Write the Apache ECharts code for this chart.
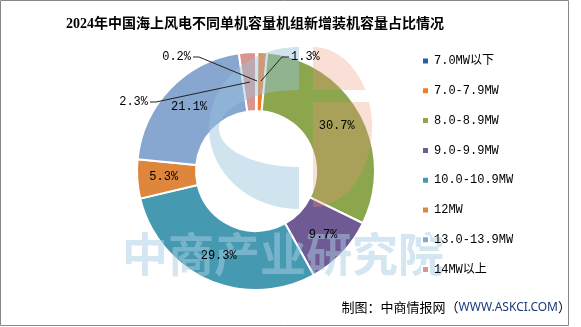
<!DOCTYPE html>
<html>
<head>
<meta charset="utf-8">
<script src="https://cdn.jsdelivr.net/npm/echarts@6/dist/echarts.min.js"></script>
<style>
html,body{margin:0;padding:0;background:#fff;}
#chart{width:581px;height:327px;}
</style>
</head>
<body>
<div id="chart"></div>
<script>
var titleText = '2024年中国海上风电不同单机容量机组新增装机容量占比情况';
var categories = ['7.0MW以下', '7.0-7.9MW', '8.0-8.9MW', '9.0-9.9MW', '10.0-10.9MW', '12MW', '13.0-13.9MW', '14MW以上'];
var shares = [0.2, 1.3, 30.7, 9.7, 29.3, 5.3, 21.1, 2.3];
var sourceText = '制图：中商情报网（';
var sourceUrl = 'WWW.ASKCI.COM';
var watermarkText = '中商产业研究院';

var colors = ['#1f63a8', '#f77a26', '#8ca64e', '#6f5a94', '#4599b0', '#de863c', '#88a7d0', '#d9958f'];
var monoFont = "'Liberation Mono', 'Noto Sans CJK SC', monospace";

// outside label placement for the three thin slices (index -> placement)
var outsideLabels = {
  0: {x: 191, y: 57, align: 'right', pts: [[257, 81], [199, 57], [193, 57]]},
  1: {x: 291, y: 57, align: 'left', pts: [[261, 81], [282, 57], [289, 57]]},
  7: {x: 148, y: 102, align: 'right', pts: [[250, 82], [156, 102], [150, 102]]}
};

// decorative watermark logo outline helper (half-ellipse arcs)
function arcPts(cx, cy, rx, ry, a0, a1, n) {
  var p = [];
  for (var i = 0; i <= n; i++) {
    var a = (a0 + (a1 - a0) * i / n) * Math.PI / 180;
    p.push([cx + rx * Math.cos(a), cy + ry * Math.sin(a)]);
  }
  return p;
}
var logoC = arcPts(299, 128, 90, 81, -90, -270, 60).concat(arcPts(299, 128.5, 80, 38.5, 90, 270, 60));
var pinkTop = arcPts(313, 127, 59, 80, -90, -27.5, 30).concat([[313, 90]]);
var pinkBottom = [[313, 102]].concat(arcPts(313, 127, 59, 80, -18.2, 90, 40));

var pieData = categories.map(function (c, i) {
  return {name: c, value: shares[i]};
});
var labelData = categories.map(function (c, i) {
  var d = {name: c, value: shares[i]};
  if (outsideLabels[i]) {
    d.label = {position: 'outside'};
    d.labelLine = {show: true, showAbove: true, lineStyle: {color: '#222', width: 1}};
  }
  return d;
});

var pieCenter = [256, 171];
var pieRadius = [60, 119];

var chart = echarts.init(document.getElementById('chart'), null, {renderer: 'canvas'});
chart.setOption({
  animation: false,
  color: colors,
  title: {
    text: titleText,
    left: 250,
    top: 12,
    textAlign: 'center',
    textStyle: {fontSize: 14, fontWeight: 'bold', color: '#000', fontFamily: "'Liberation Serif', 'Noto Sans CJK SC', serif"}
  },
  legend: {
    orient: 'vertical',
    left: 416,
    top: 49,
    itemWidth: 7,
    itemHeight: 7,
    itemGap: 15.8,
    icon: 'rect',
    z: 70,
    data: categories,
    textStyle: {fontSize: 12, color: '#000', fontFamily: monoFont, lineHeight: 14}
  },
  series: [{
    type: 'pie',
    z: 2,
    center: pieCenter,
    radius: pieRadius,
    startAngle: 90,
    clockwise: true,
    avoidLabelOverlap: false,
    itemStyle: {borderColor: '#fff', borderWidth: 2},
    label: {show: false},
    labelLine: {show: false},
    data: pieData
  }, {
    type: 'pie',
    z: 60,
    silent: true,
    center: pieCenter,
    radius: pieRadius,
    startAngle: 90,
    clockwise: true,
    avoidLabelOverlap: false,
    itemStyle: {color: 'rgba(0,0,0,0)', borderWidth: 0},
    label: {
      show: true,
      position: 'inside',
      formatter: function (p) { return p.value.toFixed(1) + '%'; },
      fontSize: 12,
      color: '#000',
      fontFamily: monoFont
    },
    labelLine: {show: false},
    labelLayout: function (params) {
      var o = outsideLabels[params.dataIndex];
      if (!o) return {};
      return {x: o.x, y: o.y, align: o.align, verticalAlign: 'middle', labelLinePoints: o.pts};
    },
    data: labelData
  }],
  graphic: [
    {
      type: 'polygon', z: 50, silent: true,
      shape: {points: logoC},
      style: {fill: 'rgba(150,195,222,0.45)'}
    },
    {
      type: 'polygon', z: 50, silent: true,
      shape: {points: pinkTop},
      style: {fill: 'rgba(240,150,120,0.3)'}
    },
    {
      type: 'polygon', z: 50, silent: true,
      shape: {points: pinkBottom},
      style: {fill: 'rgba(240,150,120,0.3)'}
    },
    {
      type: 'text', z: 50, silent: true,
      left: 122, top: 231,
      style: {text: watermarkText, fontSize: 46, fontWeight: 'bold', fontFamily: "'Noto Sans CJK SC', sans-serif", fill: 'rgba(170,205,228,0.5)'}
    },
    {
      type: 'text', z: 80,
      right: 10, top: 301,
      style: {
        text: sourceText + '{u|' + sourceUrl + '}）',
        rich: {u: {fontSize: 12, fill: '#1a3a7a', fontFamily: "'Noto Sans', sans-serif"}},
        fontSize: 13, fill: '#000', fontFamily: "'Noto Sans CJK SC', sans-serif"
      }
    },
    {
      type: 'rect', z: 100, silent: true,
      shape: {x: 0.5, y: 0.5, width: 568, height: 325},
      style: {fill: 'none', stroke: '#888', lineWidth: 1}
    }
  ]
});
</script>
</body>
</html>
